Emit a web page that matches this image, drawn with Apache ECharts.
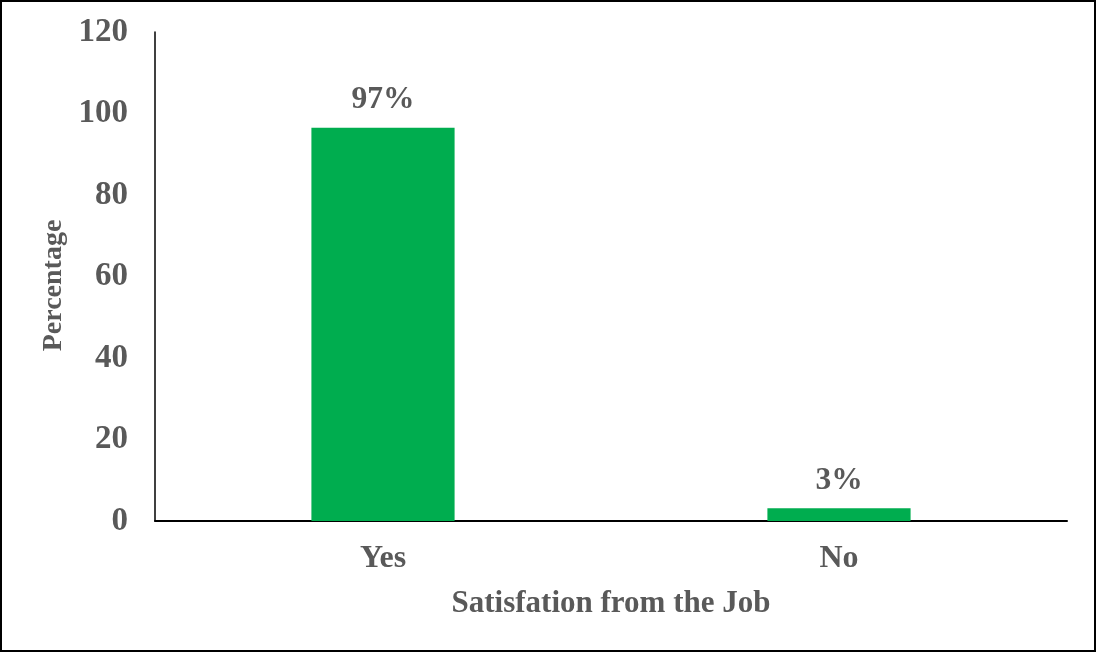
<!DOCTYPE html>
<html>
<head>
<meta charset="utf-8">
<script src="https://cdn.jsdelivr.net/npm/echarts@6/dist/echarts.min.js"></script>
<style>
html,body{margin:0;padding:0;background:#fff;}
#frame{position:absolute;left:0;top:0;width:1096px;height:652px;box-sizing:border-box;border:2px solid #000;}
#chart{position:absolute;left:0;top:0;width:1096px;height:652px;}
</style>
</head>
<body>
<div id="chart"></div>
<div id="frame"></div>
<script>
const categories = ['Yes', 'No'];
const values = [96.5, 3.1];
const valueLabels = ['97%', '3%'];
const yTicks = { min: 0, max: 120, interval: 20 };
const xTitle = 'Satisfation from the Job';
const yTitle = 'Percentage';

const font = 'Liberation Serif';
const grey = '#595959';
const chart = echarts.init(document.getElementById('chart'));
chart.setOption({
  animation: false,
  grid: { left: 155, right: 29, top: 32, bottom: 131 },
  xAxis: {
    type: 'category',
    data: categories,
    axisTick: { show: false },
    axisLine: { lineStyle: { color: '#000', width: 2 } },
    axisLabel: { color: grey, fontFamily: font, fontWeight: 'bold', fontSize: 32, margin: 22 },
    name: xTitle,
    nameLocation: 'middle',
    nameGap: 67,
    nameTextStyle: { color: grey, fontFamily: font, fontWeight: 'bold', fontSize: 31 }
  },
  yAxis: {
    type: 'value',
    min: yTicks.min, max: yTicks.max, interval: yTicks.interval,
    splitLine: { show: false },
    axisTick: { show: false },
    axisLine: { show: true, lineStyle: { color: '#000', width: 1.5 } },
    axisLabel: { color: grey, fontFamily: font, fontWeight: 'bold', fontSize: 33, margin: 27 },
    name: yTitle,
    nameLocation: 'middle',
    nameGap: 87,
    nameTextStyle: { color: grey, fontFamily: font, fontWeight: 'bold', fontSize: 28, padding: [0, 18, 0, 0] }
  },
  series: [{
    type: 'bar',
    data: values,
    barWidth: '31.4%',
    itemStyle: { color: '#00AD4F' },
    label: {
      show: true,
      position: 'top',
      distance: 12,
      color: grey,
      fontFamily: font,
      fontWeight: 'bold',
      fontSize: 31.5,
      formatter: p => valueLabels[p.dataIndex]
    }
  }]
});
</script>
</body>
</html>
